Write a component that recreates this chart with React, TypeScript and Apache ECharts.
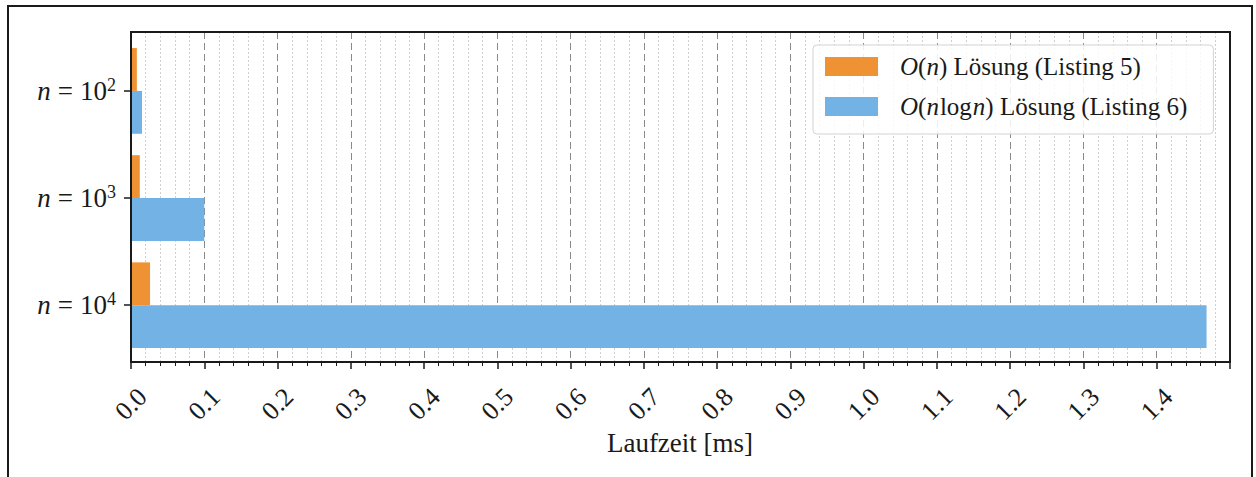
import React, { useEffect, useRef } from "react";
import * as echarts from "echarts";

const exponents = ["2", "3", "4"];
const seriesNames = ["O(n) Lösung (Listing 5)", "O(nlogn) Lösung (Listing 6)"];
const linearValues = [0.008, 0.012, 0.026];
const nlognValues = [0.015, 0.1, 1.468];
const xTicks = [0, 0.1, 0.2, 0.3, 0.4, 0.5, 0.6, 0.7, 0.8, 0.9, 1.0, 1.1, 1.2, 1.3, 1.4];
const colors = ["#EF9234", "#73B2E4"];

const FONT = "Liberation Serif";

function makeRender(off0: number, off1: number) {
  return (params: any, api: any) => {
    const idx = api.value(0);
    const v = api.value(1);
    const p0 = api.coord([0, idx + off0]);
    const p1 = api.coord([v, idx + off1]);
    return {
      type: "rect",
      shape: {
        x: p0[0],
        y: Math.min(p0[1], p1[1]),
        width: p1[0] - p0[0],
        height: Math.abs(p1[1] - p0[1]),
      },
      style: api.style(),
    };
  };
}

export default function App() {
  const ref = useRef<HTMLDivElement>(null);
  useEffect(() => {
    if (!ref.current) return;
    const chart = echarts.init(ref.current, null, { renderer: "svg" });
    const legendFmt = (name: string) => {
      if (name === seriesNames[0]) return "{it|O}({it|n}) Lösung (Listing 5)";
      return "{it|O}({it|n}{l|log}{it|n}) Lösung (Listing 6)";
    };
    chart.setOption({
      animation: false,
      backgroundColor: "#ffffff",
      grid: {
        left: 131,
        right: 26,
        top: 32,
        height: 330,
        show: true,
        borderColor: "#1a1a1a",
        borderWidth: 2,
        backgroundColor: "transparent",
        z: 10,
      },
      legend: {
        left: 813,
        top: 45,
        orient: "vertical",
        itemWidth: 53,
        itemHeight: 19,
        itemGap: 15,
        icon: "rect",
        padding: [9, 26, 15, 12],
        backgroundColor: "rgba(255,255,255,0.85)",
        borderColor: "#d3d3d3",
        borderWidth: 1,
        borderRadius: 4,
        formatter: legendFmt,
        textStyle: {
          fontFamily: FONT,
          fontSize: 25,
          color: "#1a1a1a",
          padding: [0, 0, 0, 17],
          rich: {
            it: { fontFamily: FONT, fontSize: 25, fontStyle: "italic", color: "#1a1a1a" },
            l: { fontFamily: FONT, fontSize: 25, color: "#1a1a1a", padding: [0, 1, 0, 1] },
          },
        },
        data: seriesNames,
      },
      xAxis: {
        type: "value",
        min: 0,
        max: 1.5,
        interval: 0.1,
        axisLine: { show: true, onZero: false, lineStyle: { color: "#1a1a1a", width: 2 } },
        axisTick: { show: true, length: 7, lineStyle: { color: "#1a1a1a", width: 1.5 } },
        minorTick: { show: true, splitNumber: 5, length: 4, lineStyle: { color: "#1a1a1a", width: 1 } },
        axisLabel: {
          rotate: 45,
          align: "center",
          verticalAlign: "middle",
          margin: 42,
          fontFamily: FONT,
          fontSize: 26,
          color: "#1a1a1a",
          showMaxLabel: false,
          formatter: (v: number) => (xTicks.some((t) => Math.abs(t - v) < 1e-6) ? v.toFixed(1) : ""),
        },
        splitLine: { show: true, lineStyle: { color: "#8a8a8a", type: [7, 4], width: 1 } },
        minorSplitLine: { show: true, lineStyle: { color: "#cfcfcf", type: [2, 2], width: 1 } },
      },
      yAxis: {
        type: "value",
        inverse: true,
        min: -0.55,
        max: 2.53,
        axisLine: { show: true, onZero: false, lineStyle: { color: "#1a1a1a", width: 2 } },
        axisTick: { show: true, length: 7, customValues: [0, 1, 2], lineStyle: { color: "#1a1a1a", width: 1.5 } },
        axisLabel: {
          customValues: [0, 1, 2],
          margin: 15,
          fontFamily: FONT,
          fontSize: 27,
          color: "#1a1a1a",
          formatter: (v: number) => `{it|n}{eq|=}{n|10}{sup|${exponents[Math.round(v)]}}`,
          rich: {
            it: { fontFamily: FONT, fontSize: 27, fontStyle: "italic", color: "#1a1a1a", lineHeight: 30 },
            eq: { fontFamily: FONT, fontSize: 27, color: "#1a1a1a", lineHeight: 30, padding: [0, 7, 0, 7] },
            n: { fontFamily: FONT, fontSize: 27, color: "#1a1a1a", lineHeight: 30 },
            sup: { fontFamily: FONT, fontSize: 18, color: "#1a1a1a", verticalAlign: "top", lineHeight: 18 },
          },
        },
        splitLine: { show: false },
      },
      series: [
        {
          name: seriesNames[0],
          type: "custom",
          renderItem: makeRender(-0.4, 0),
          itemStyle: { color: colors[0] },
          encode: { x: 1, y: 0 },
          data: linearValues.map((v, i) => [i, v]),
          z: 3,
        },
        {
          name: seriesNames[1],
          type: "custom",
          renderItem: makeRender(0, 0.4),
          itemStyle: { color: colors[1] },
          encode: { x: 1, y: 0 },
          data: nlognValues.map((v, i) => [i, v]),
          z: 3,
        },
      ],
      graphic: [
        {
          type: "rect",
          shape: { x: 8, y: 6, width: 1244, height: 500 },
          style: { fill: "none", stroke: "#1a1a1a", lineWidth: 2 },
          silent: true,
        },
        {
          type: "text",
          x: 680,
          y: 443,
          style: {
            text: "Laufzeit [ms]",
            fontFamily: FONT,
            fontSize: 27,
            fill: "#1a1a1a",
            align: "center",
            verticalAlign: "middle",
          },
        },
      ],
    });
    return () => chart.dispose();
  }, []);
  return (
    <div
      ref={ref}
      style={{ position: "absolute", left: 0, top: 0, width: 1256, height: 477, background: "#fff" }}
    />
  );
}
